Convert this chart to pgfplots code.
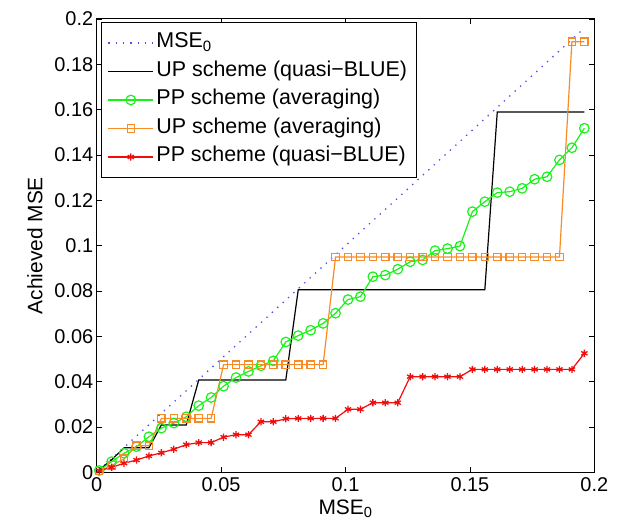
\documentclass[border=0pt]{standalone}
\usepackage{fontspec}
\setmainfont{Liberation Sans}
\usepackage{pgfplots}
\pgfplotsset{compat=1.18}
\usepackage{pgfplotstable}
\definecolor{myorange}{rgb}{0.97,0.55,0.15}
\definecolor{mygreen}{rgb}{0.1,0.95,0.1}
\definecolor{myblue}{rgb}{0.3,0.3,0.95}
\definecolor{myred}{rgb}{0.95,0.05,0.05}
\pgfplotstableread{
x     mse   upblue  ppavg   upavg   ppblue
0.001 0.001 0.0010  0.0008  0.0005  0.0007
0.006 0.006 0.0055  0.0047  0.0030  0.0022
0.011 0.011 0.0108  0.0084  0.0060  0.0040
0.016 0.016 0.0108  0.0113  0.0117  0.0054
0.021 0.021 0.0108  0.0157  0.0117  0.0072
0.026 0.026 0.0209  0.0195  0.0238  0.0086
0.031 0.031 0.0209  0.0217  0.0238  0.0102
0.036 0.036 0.0209  0.0245  0.0238  0.0122
0.041 0.041 0.0407  0.0294  0.0238  0.0131
0.046 0.046 0.0407  0.0330  0.0238  0.0131
0.051 0.051 0.0407  0.0380  0.0475  0.0155
0.056 0.056 0.0407  0.0418  0.0475  0.0166
0.061 0.061 0.0407  0.0445  0.0475  0.0166
0.066 0.066 0.0407  0.0470  0.0475  0.0223
0.071 0.071 0.0407  0.0492  0.0475  0.0223
0.076 0.076 0.0407  0.0575  0.0475  0.0236
0.081 0.081 0.0805  0.0603  0.0475  0.0238
0.086 0.086 0.0805  0.0627  0.0475  0.0238
0.091 0.091 0.0805  0.0657  0.0475  0.0238
0.096 0.096 0.0805  0.0702  0.0950  0.0238
0.101 0.101 0.0805  0.0762  0.0950  0.0278
0.106 0.106 0.0805  0.0775  0.0950  0.0278
0.111 0.111 0.0805  0.0863  0.0950  0.0307
0.116 0.116 0.0805  0.0870  0.0950  0.0307
0.121 0.121 0.0805  0.0896  0.0950  0.0307
0.126 0.126 0.0805  0.0929  0.0950  0.0422
0.131 0.131 0.0805  0.0937  0.0950  0.0422
0.136 0.136 0.0805  0.0978  0.0950  0.0422
0.141 0.141 0.0805  0.0987  0.0950  0.0422
0.146 0.146 0.0805  0.0998  0.0950  0.0422
0.151 0.151 0.0805  0.1150  0.0950  0.0454
0.156 0.156 0.0805  0.1194  0.0950  0.0454
0.161 0.161 0.1590  0.1234  0.0950  0.0454
0.166 0.166 0.1590  0.1238  0.0950  0.0454
0.171 0.171 0.1590  0.1253  0.0950  0.0454
0.176 0.176 0.1590  0.1293  0.0950  0.0454
0.181 0.181 0.1590  0.1304  0.0950  0.0454
0.186 0.186 0.1590  0.1378  0.0950  0.0454
0.191 0.191 0.1590  0.1432  0.1900  0.0454
0.196 0.196 0.1590  0.1518  0.1900  0.0525
}\datatable
\begin{document}
\begin{tikzpicture}
\begin{axis}[
  width=497.6bp, height=453.3bp, scale only axis,
  xmin=0, xmax=0.2, ymin=0, ymax=0.2,
  xtick={0,0.05,0.1,0.15,0.2},
  xticklabels={0,0.05,0.1,0.15,0.2},
  ytick={0,0.02,0.04,0.06,0.08,0.1,0.12,0.14,0.16,0.18,0.2},
  yticklabels={0,0.02,0.04,0.06,0.08,0.1,0.12,0.14,0.16,0.18,0.2},
  tick align=inside, major tick length=5bp, minor tick num=0,
  tick style={black, line width=0.8bp},
  axis line style={line width=1bp},
  ticklabel style={font=\fontsize{20}{24}\selectfont},
  xticklabel style={yshift=-2bp},
  xlabel={MSE\textsubscript{0}}, ylabel={Achieved MSE},
  label style={font=\fontsize{21}{25}\selectfont},
  xlabel style={yshift=-1bp},
  ylabel style={yshift=5bp},
  legend cell align=left,
  legend style={at={(0.008,0.994)}, anchor=north west, draw=black, line width=1bp,
    font=\fontsize{21.5}{26}\selectfont, row sep=0bp,
    nodes={inner xsep=2.5bp, inner ysep=3.75bp, text height=15.5bp, text depth=5.5bp},
    inner xsep=6.5bp, inner ysep=6.5bp},
  legend image code/.code={\draw[mark repeat=2,mark phase=2,#1] plot coordinates {(0bp,0bp) (22.5bp,0bp) (45bp,0bp)};},
  every axis plot/.append style={line width=1.2bp},
]
\addplot[myblue, line width=1.3bp, dash pattern=on 1.3bp off 6bp] table[x=x,y=mse]{\datatable};
\addlegendentry{MSE\textsubscript{0}}
\addplot[black] table[x=x,y=upblue]{\datatable};
\addlegendentry{UP scheme (quasi\textminus BLUE)}
\addplot[mygreen, mark=o, mark size=4.8bp, mark options={line width=1.2bp}] table[x=x,y=ppavg]{\datatable};
\addlegendentry{PP scheme (averaging)}
\addplot[myorange, mark=square, mark size=3.7bp, mark options={line width=1.2bp}] table[x=x,y=upavg]{\datatable};
\addlegendentry{UP scheme (averaging)}
\addplot[myred, mark=asterisk, mark size=3.6bp, mark options={line width=1.3bp}] table[x=x,y=ppblue]{\datatable};
\addlegendentry{PP scheme (quasi\textminus BLUE)}
\end{axis}
\pgfresetboundingbox
\path ([shift={(-96.7bp,-54.7bp)}]current axis.south west) rectangle ([shift={(27.7bp,19bp)}]current axis.north east);
\end{tikzpicture}
\end{document}
